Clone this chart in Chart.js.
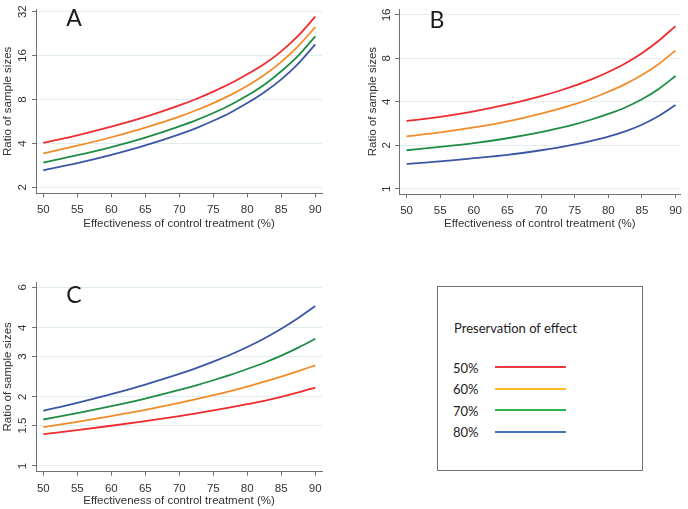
<!DOCTYPE html>
<html>
<head>
<meta charset="utf-8">
<script src="https://cdn.jsdelivr.net/npm/chart.js@4/dist/chart.umd.min.js"></script>
<style>
  html, body { margin: 0; padding: 0; background: #ffffff; }
  #wrap { position: relative; width: 688px; height: 509px; background: #ffffff; overflow: hidden; }
  canvas { position: absolute; }
  .letter { position: absolute; font-family: Lato, "Open Sans", sans-serif; font-size: 23px; color: #1a1a1a; line-height: 1; transform: translate(-50%, -50%); }
  #legend { position: absolute; left: 437px; top: 286px; width: 206px; height: 185px; border: 1px solid #707070; box-sizing: border-box; }
  .ltxt { position: absolute; font-family: Lato, "Open Sans", sans-serif; font-size: 13px; color: #222; line-height: 1; transform: translateY(-50%); white-space: nowrap; }
  .lline { position: absolute; height: 2px; }
</style>
</head>
<body>
<div id="wrap">
  <canvas id="cA" width="344" height="250" style="left:0;top:0;"></canvas>
  <canvas id="cB" width="344" height="250" style="left:344px;top:0;"></canvas>
  <canvas id="cC" width="344" height="259" style="left:0;top:250px;"></canvas>
  <div class="letter" style="left:74px;top:17px;">A</div>
  <div class="letter" style="left:437px;top:19px;">B</div>
  <div class="letter" style="left:74px;top:294px;">C</div>
  <div id="legend"></div>
</div>
<script>
// ---- data ----
const effectiveness = [50, 55, 60, 65, 70, 72.5, 75, 77.5, 80, 82.5, 85, 87.5, 90];
const preservation = ['50%', '60%', '70%', '80%'];
const xTicks = [50, 55, 60, 65, 70, 75, 80, 85, 90];

const a50 = [4.04, 4.55, 5.21, 6.08, 7.29, 8.07, 9.06, 10.29, 11.92, 14.0, 17.1, 21.9, 29.6];
const a60 = [3.42, 3.86, 4.41, 5.13, 6.11, 6.75, 7.56, 8.57, 9.94, 11.8, 14.5, 18.6, 25.1];
const a70 = [2.96, 3.32, 3.78, 4.39, 5.24, 5.78, 6.47, 7.34, 8.51, 10.1, 12.5, 16.0, 21.7];
const a80 = [2.62, 2.93, 3.34, 3.88, 4.62, 5.10, 5.72, 6.50, 7.56, 8.97, 11.0, 14.1, 19.1];
const yTicksA = [2, 4, 8, 16, 32];

const b50 = [2.95, 3.15, 3.44, 3.84, 4.39, 4.74, 5.18, 5.72, 6.44, 7.38, 8.69, 10.6, 13.4];
const b60 = [2.31, 2.46, 2.66, 2.93, 3.32, 3.56, 3.86, 4.22, 4.70, 5.31, 6.14, 7.33, 9.06];
const b70 = [1.85, 1.95, 2.07, 2.24, 2.47, 2.62, 2.80, 3.02, 3.30, 3.66, 4.17, 4.92, 6.05];
const b80 = [1.49, 1.55, 1.63, 1.72, 1.85, 1.93, 2.03, 2.15, 2.30, 2.50, 2.78, 3.19, 3.80];
const yTicksB = [1, 2, 4, 8, 16];

const c50 = [1.377, 1.433, 1.497, 1.568, 1.649, 1.695, 1.745, 1.799, 1.859, 1.923, 2.000, 2.090, 2.196];
const c60 = [1.477, 1.557, 1.649, 1.756, 1.883, 1.955, 2.034, 2.120, 2.218, 2.328, 2.451, 2.590, 2.745];
const c70 = [1.594, 1.699, 1.822, 1.967, 2.145, 2.247, 2.363, 2.494, 2.646, 2.817, 3.023, 3.276, 3.583];
const c80 = [1.739, 1.883, 2.054, 2.263, 2.517, 2.670, 2.848, 3.052, 3.297, 3.594, 3.960, 4.413, 4.980];
const yTicksC = [1, 1.5, 2, 3, 4, 6];

const lineColors = ['#ee2b2f', '#f28c28', '#1f8d45', '#3b56a6'];
const legendColors = ['#ef3b40', '#fbbb1f', '#2db34b', '#4a73c2'];

// ---- chart builder ----
const AXIS = '#707070';
const GRID = '#e2edf2';
const TXT = '#333333';
const FONT = "'Liberation Sans', Arial, sans-serif";

function makePanel(id, series, yTicks, cfg) {
  const datasets = series.map((s, i) => ({
    label: preservation[i],
    data: s.map((v, j) => ({ x: effectiveness[j], y: v })),
    borderColor: lineColors[i],
    backgroundColor: lineColors[i],
    borderWidth: 1.8,
    pointRadius: 0,
    cubicInterpolationMode: 'monotone',
    fill: false
  }));
  return new Chart(document.getElementById(id), {
    type: 'line',
    data: { datasets },
    options: {
      responsive: false,
      animation: false,
      devicePixelRatio: 1,
      layout: { padding: cfg.pad },
      plugins: { legend: { display: false }, tooltip: { enabled: false } },
      scales: {
        x: {
          type: 'linear',
          min: cfg.xmin, max: cfg.xmax,
          afterBuildTicks: s => { s.ticks = xTicks.map(v => ({ value: v })); },
          afterFit: s => { s.height = cfg.xh; },
          grid: { drawOnChartArea: false, drawTicks: true, tickLength: 4, tickColor: AXIS, tickWidth: 1 },
          border: { display: true, color: AXIS, width: 1 },
          ticks: { padding: 6, color: TXT, font: { family: FONT, size: 11.5 }, maxRotation: 0, minRotation: 0, callback: v => String(v) },
          title: { display: true, text: 'Effectiveness of control treatment (%)', color: TXT, font: { family: FONT, size: 11.5 }, padding: { top: 0, bottom: 0 } }
        },
        y: {
          type: 'logarithmic',
          min: cfg.ymin, max: cfg.ymax,
          afterBuildTicks: s => { s.ticks = yTicks.map(v => ({ value: v })); },
          afterFit: s => { s.width = cfg.yw; },
          grid: { drawOnChartArea: true, color: GRID, lineWidth: 1, drawTicks: true, tickLength: 4, tickColor: AXIS },
          border: { display: true, color: AXIS, width: 1 },
          ticks: { padding: cfg.tp, color: TXT, font: { family: FONT, size: 11.5 }, minRotation: 90, maxRotation: 90, crossAlign: 'center', callback: v => String(v) },
          title: { display: true, text: 'Ratio of sample sizes', color: TXT, font: { family: FONT, size: 11.5 }, padding: { top: 0, bottom: 0 } }
        }
      }
    }
  });
}

makePanel('cA', [a50, a60, a70, a80], yTicksA, {
  pad: { left: 0.5, top: 7, right: 22, bottom: 19.2 },
  xmin: 48.93, xmax: 90.99, ymin: 1.821, ymax: 33.17, yw: 35.5, xh: 37.5, tp: 2.5
});
makePanel('cB', [b50, b60, b70, b80], yTicksB, {
  pad: { left: 21.5, top: 4, right: 4, bottom: 18.9 },
  xmin: 48.87, xmax: 90.78, ymin: 0.921, ymax: 17.56, yw: 33.5, xh: 37.1, tp: 2.2
});
makePanel('cC', [c50, c60, c70, c80], yTicksC, {
  pad: { left: 0.5, top: 32, right: 22, bottom: 1.2 },
  xmin: 48.93, xmax: 90.99, ymin: 0.9444, ymax: 6.33, yw: 35.5, xh: 36.1, tp: 1.6
});

// ---- legend ----
const legend = document.getElementById('legend');
const title = document.createElement('div');
title.className = 'ltxt';
title.style.left = '16px';
title.style.top = '40.5px';
title.textContent = 'Preservation of effect';
legend.appendChild(title);
const rowY = [80.5, 102, 123.5, 145];
preservation.forEach((p, i) => {
  const t = document.createElement('div');
  t.className = 'ltxt';
  t.style.left = '15px';
  t.style.top = rowY[i] + 'px';
  t.textContent = p;
  legend.appendChild(t);
  const l = document.createElement('div');
  l.className = 'lline';
  l.style.left = '57px';
  l.style.width = '71px';
  l.style.top = (rowY[i] - 1.5) + 'px';
  l.style.background = legendColors[i];
  legend.appendChild(l);
});
</script>
</body>
</html>
